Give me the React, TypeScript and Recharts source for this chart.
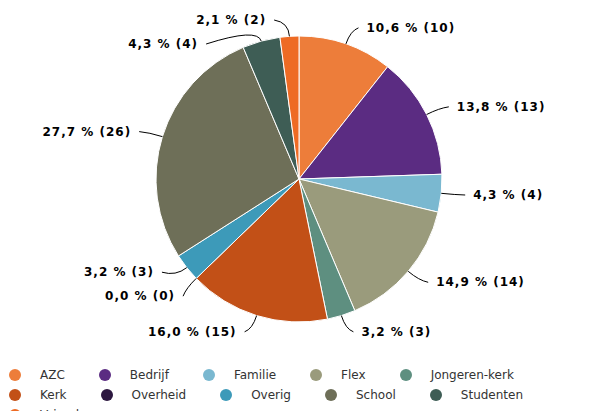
import React from 'react';
import { PieChart, Pie, Cell } from 'recharts';

const categories = ['AZC', 'Bedrijf', 'Familie', 'Flex', 'Jongeren-kerk', 'Kerk', 'Overheid', 'Overig', 'School', 'Studenten', 'Vrienden'];
const counts = [10, 13, 4, 14, 3, 15, 0, 3, 26, 4, 2];
const colors = ['#ED7D3A', '#5B2C82', '#7AB8D0', '#9A9B7C', '#5E8F80', '#C25017', '#2D1840', '#3D9AB9', '#6E6F58', '#3E5D55', '#EE6B24'];

const data = categories.map((name, i) => ({ name, value: counts[i] }));

const CX = 291;
const CY = 171;
const R = 143;
const LR = 160;
const GAP = 24;
const TOP = 12;

// label placement (pie-style: along the circle, pushed apart when they collide)
const total = counts.reduce((a, b) => a + b, 0);
let acc = 0;
const raw = counts.map((v, i) => {
  const a = ((acc + v / 2) / total) * Math.PI * 2;
  acc += v;
  return { i, a, side: Math.sin(a) >= 0 ? 1 : -1, y: CY - LR * Math.cos(a) };
});
const placed: Record<number, { x: number; y: number; side: number; a: number }> = {};
[1, -1].forEach((side) => {
  const list = raw.filter((r) => r.side === side).sort((p, q) => p.y - q.y);
  for (let k = 0; k < 20; k++) {
    for (let j = 1; j < list.length; j++) {
      const d = list[j].y - list[j - 1].y;
      if (d < GAP) {
        const m = (GAP - d) / 2;
        list[j - 1].y -= m;
        list[j].y += m;
      }
    }
  }
  let prev = -Infinity;
  list.forEach((r) => {
    let y = Math.max(r.y, TOP, prev + GAP);
    prev = y;
    const dy = y - CY;
    const dx = Math.sqrt(Math.max(0, LR * LR - dy * dy));
    placed[r.i] = { x: CX + side * dx, y, side, a: r.a };
  });
});

const renderLabel = (props: any) => {
  const { index } = props;
  const p = placed[index];
  if (!p) return null;
  const x0 = CX + R * Math.sin(p.a);
  const y0 = CY - R * Math.cos(p.a);
  const xc = CX + (R + 14) * Math.sin(p.a);
  const yc = CY - (R + 14) * Math.cos(p.a);
  const x2 = p.x + p.side * 7;
  const pct = ((counts[index] / total) * 100).toFixed(1).replace('.', ',');
  return (
    <g key={`lbl-${index}`}>
      <path d={`M${x0},${y0} Q${xc},${yc} ${x2},${p.y}`} stroke="#000" strokeWidth={1} fill="none" />
      <text
        x={p.x + p.side * 15}
        y={p.y}
        textAnchor={p.side > 0 ? 'start' : 'end'}
        dominantBaseline="central"
        fontFamily="DejaVu Sans, Verdana, sans-serif"
        fontWeight="bold"
        fontSize={12}
        letterSpacing={1}
        fill="#000"
      >
        {`${pct} % (${counts[index]})`}
      </text>
    </g>
  );
};

export default function App() {
  return (
    <div style={{ position: 'relative', width: 590, height: 403, fontFamily: 'DejaVu Sans, Verdana, sans-serif' }}>
      <PieChart width={590} height={350} margin={{ top: 0, right: 0, bottom: 0, left: 0 }}>
        <Pie
          data={data}
          dataKey="value"
          nameKey="name"
          cx={CX}
          cy={CY}
          outerRadius={R}
          startAngle={90}
          endAngle={-270}
          stroke="#fff"
          strokeWidth={1}
          labelLine={false}
          label={renderLabel}
          isAnimationActive={false}
        >
          {data.map((d, i) => (
            <Cell key={d.name} fill={colors[i]} />
          ))}
        </Pie>
      </PieChart>
      <div
        style={{
          position: 'absolute',
          left: 1,
          top: 357,
          width: 580,
          display: 'flex',
          flexWrap: 'wrap',
          fontSize: 12,
          color: '#333',
          lineHeight: '20px',
        }}
      >
        {categories.map((name, i) => (
          <div key={name} style={{ display: 'flex', alignItems: 'center', marginRight: 34 }}>
            <span style={{ width: 12, height: 12, borderRadius: 6, background: colors[i], marginRight: 19, display: 'inline-block' }} />
            <span>{name}</span>
          </div>
        ))}
      </div>
    </div>
  );
}
